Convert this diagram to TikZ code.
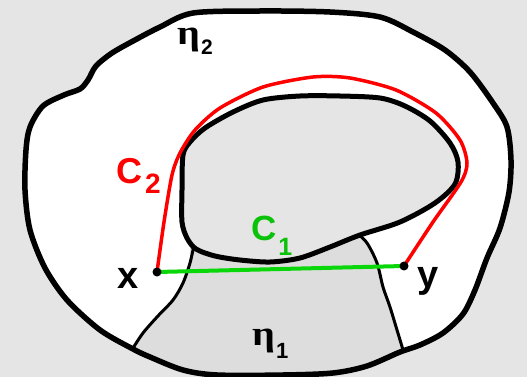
\documentclass[tikz,border=0pt]{standalone}
\usepackage{fontspec}
\setmainfont{Liberation Sans}
\newfontfamily\etafont{Liberation Serif}
\usepackage{graphicx}

\definecolor{paper}{RGB}{229,229,229}
\definecolor{lobe}{RGB}{221,221,221}
\definecolor{pathred}{RGB}{255,0,0}
\definecolor{pathgreen}{RGB}{10,215,10}

% outer rim and inner hole of the ring
\def\outerrim{plot[smooth cycle, tension=0.5] coordinates {(193,13) (260,11) (330,12) (380,17) (413,32) (445,50) (470,72) (493,103) (507,127) (511,160) (509,192) (500,228) (487,258) (475,290) (463,314) (443,333) (420,345) (400,352) (367,366) (333,373) (283,375) (217,375) (183,370) (150,357) (133,349) (100,330) (67,300) (45,268) (30,230) (25,190) (26,150) (30,127) (43,106) (64,95) (80,89) (88,80) (96,66) (112,53) (135,40) (160,27)}}
\def\innerhole{plot[smooth cycle, tension=0.5] coordinates {(183,155) (182,190) (182,222) (187,238) (196,249) (215,256) (240,260) (270,262) (300,258) (330,247) (360,235) (400,222) (435,203) (455,184) (458,162) (450,143) (430,121) (405,106) (380,98) (340,96) (300,96) (263,100) (233,112) (205,128) (190,142)}}

\begin{document}
\begin{tikzpicture}[x=1pt,y=-1pt,
    rim/.style={draw=black, line width=5.5pt, line join=round},
    hole/.style={draw=black, line width=5pt, line join=round, fill=paper},
    cut/.style={draw=black, line width=3pt, line cap=round},
    curve/.style={line width=3.5pt, line join=round, line cap=round},
    lbl/.style={anchor=base west, inner sep=0pt, font=\bfseries}
]
\useasboundingbox (0,0) rectangle (527,377);
\fill[paper] (0,0) rectangle (527,377);

% ring
\fill[white] \outerrim;
\begin{scope}
  \clip \outerrim;
  \fill[lobe] (190,240) -- (190,263) -- (183,283) -- (173,300) -- (157,317) -- (143,333) -- (133,348) -- (120,400) -- (420,400) -- (403,350) -- (397,330) -- (390,307) -- (383,287) -- (377,263) -- (367,243) -- (356,230) -- cycle;
  \draw[cut] plot[smooth] coordinates {(194,245) (190,263) (183,283) (173,300) (157,317) (143,333) (133,348) (125,360)};
  \draw[cut] plot[smooth] coordinates {(356,232) (367,243) (377,263) (383,287) (390,307) (397,330) (403,350) (406,362)};
\end{scope}
\path[hole] \innerhole;
\path[rim] \outerrim;

% end points and the two paths
\coordinate (x) at (157,272);
\coordinate (y) at (404,266);
\draw[curve, pathred] plot[smooth, tension=0.45] coordinates {(x) (164,222) (172,175) (180,153) (195,130) (220,108) (263,87) (313,77) (350,78) (396,90) (436,113) (460,140) (467,163) (461,182) (433,222) (y)};
\draw[curve, pathgreen, line width=4pt] (x) -- (y);
\fill (x) circle[radius=4.5pt];
\fill (y) circle[radius=4.5pt];

% labels
\node[lbl] (eta2) at (177,45) {{\etafont\fontsize{35}{35}\selectfont\scalebox{1.15}[1]{η}}\kern1pt{\fontsize{21}{21}\selectfont\raisebox{-10pt}{2}}};
\node[lbl] (eta1) at (252,345) {{\etafont\fontsize{35}{35}\selectfont\scalebox{1.15}[1]{η}}\kern1pt{\fontsize{22}{22}\selectfont\raisebox{-13pt}{1}}};
\node[lbl, text=pathred] (c2) at (116,183) {\fontsize{36}{36}\selectfont C\kern3pt{\fontsize{28}{28}\selectfont\raisebox{-10pt}{2}}};
\node[lbl, text=pathgreen!90!black] (c1) at (251,240) {\fontsize{35}{35}\selectfont C\kern2pt{\fontsize{25}{25}\selectfont\raisebox{-15pt}{1}}};
\node[lbl] (xlbl) at (117,288) {\fontsize{38}{38}\selectfont x};
\node[lbl] (ylbl) at (417,287) {\fontsize{38}{38}\selectfont y};
\end{tikzpicture}
\end{document}
